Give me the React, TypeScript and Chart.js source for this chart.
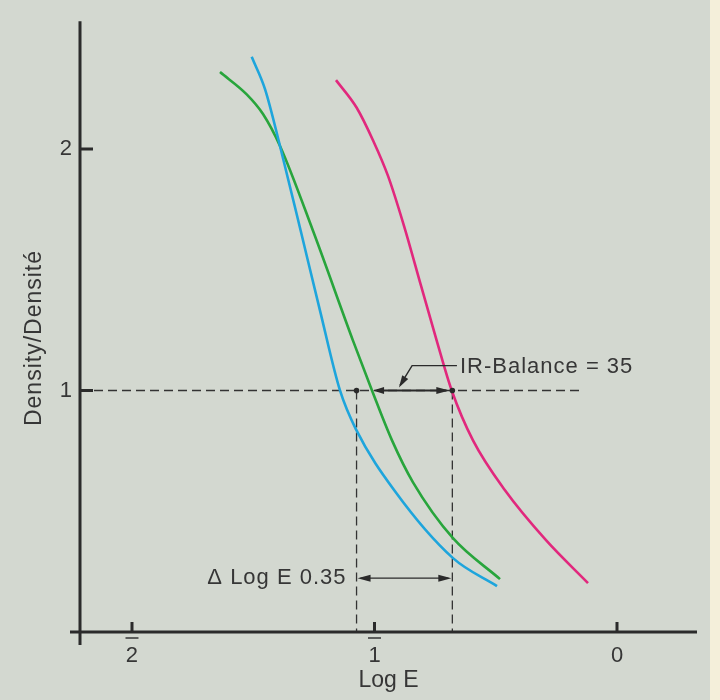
import React, { useEffect, useRef } from "react";
import { Chart, registerables } from "chart.js";

Chart.register(...registerables);

const blueX = [-1.5064, -1.4515, -1.3897, -1.3043, -1.2247, -1.1423, -1.0763, -0.9155, -0.6763, -0.4948];
const blueY = [2.3814, 2.2479, 2.0124, 1.6612, 1.3306, 1.0, 0.8388, 0.5826, 0.3058, 0.1901];
const greenX = [-1.6371, -1.527, -1.4598, -1.3897, -1.2536, -1.0887, -1.0103, -0.9278, -0.8412, -0.6763, -0.4825];
const greenY = [2.3182, 2.226, 2.1446, 2.0124, 1.6612, 1.2066, 1.0, 0.7934, 0.6198, 0.3884, 0.219];
const magentaX = [-1.1588, -1.0734, -1.0049, -0.9443, -0.8784, -0.8082, -0.7435, -0.6816, -0.5938, -0.4619, -0.2928, -0.1196];
const magentaY = [2.2851, 2.1707, 2.0331, 1.8884, 1.6818, 1.4339, 1.2066, 1.0, 0.7934, 0.5868, 0.3802, 0.2025];

const xTickValues = [-2, -1, 0];
const xTickLabels = ["2", "1", "0"];
const xTickBarred = [true, true, false];
const yTickValues = [1, 2];
const yTickLabels = ["1", "2"];

// annotation values (data coords)
const refDensity = 1;
const refLineEndX = -0.153;
const leftMarkX = -1.074;
const rightMarkX = -0.679;
const greenAtRefX = -1.006;
const deltaArrowY = 0.223;
const leaderPts = [
  [-0.66, 1.103],
  [-0.845, 1.103],
  [-0.895, 1.021],
];
const irLabel = "IR-Balance = 35";
const deltaLabel = "\u0394 Log E 0.35";
const yTitle = "Density/Densit\u00e9";

const BG = "rgb(211,216,208)";
const INK = "#2b2b2b";
const TEXT = "#363636";
const FONT = "'Liberation Sans', Arial, Helvetica, sans-serif";

function arrowHead(ctx: CanvasRenderingContext2D, x: number, y: number, dx: number, dy: number, len = 12, hw = 3.5) {
  const l = Math.hypot(dx, dy) || 1;
  const ux = dx / l, uy = dy / l;
  const bx = x - ux * len, by = y - uy * len;
  ctx.beginPath();
  ctx.moveTo(x, y);
  ctx.lineTo(bx - uy * hw, by + ux * hw);
  ctx.lineTo(bx + uy * hw, by - ux * hw);
  ctx.closePath();
  ctx.fill();
}

const decorPlugin = {
  id: "decor",
  beforeDraw(chart: any) {
    const ctx = chart.ctx as CanvasRenderingContext2D;
    ctx.save();
    ctx.fillStyle = BG;
    ctx.fillRect(0, 0, chart.width, chart.height);
    ctx.fillStyle = "rgb(244,239,218)";
    ctx.fillRect(710, 0, chart.width - 710, chart.height);
    ctx.restore();
  },
  beforeDatasetsDraw(chart: any) {
    const ctx = chart.ctx as CanvasRenderingContext2D;
    const xs = chart.scales.x, ys = chart.scales.y;
    const ca = chart.chartArea;
    const px = (v: number) => xs.getPixelForValue(v);
    const py = (v: number) => ys.getPixelForValue(v);
    ctx.save();
    ctx.strokeStyle = "#333";
    ctx.lineWidth = 1.3;
    ctx.setLineDash([9, 5]);
    ctx.beginPath();
    ctx.moveTo(ca.left, py(refDensity));
    ctx.lineTo(px(refLineEndX), py(refDensity));
    ctx.moveTo(px(leftMarkX), py(refDensity));
    ctx.lineTo(px(leftMarkX), py(0));
    ctx.moveTo(px(rightMarkX), py(refDensity));
    ctx.lineTo(px(rightMarkX), py(0));
    ctx.stroke();
    ctx.restore();
  },
  afterDatasetsDraw(chart: any) {
    const ctx = chart.ctx as CanvasRenderingContext2D;
    const xs = chart.scales.x, ys = chart.scales.y;
    const ca = chart.chartArea;
    const px = (v: number) => xs.getPixelForValue(v);
    const py = (v: number) => ys.getPixelForValue(v);
    ctx.save();
    ctx.strokeStyle = INK;
    ctx.lineWidth = 3;
    ctx.setLineDash([]);
    const x0 = ca.left, y0 = py(0);
    ctx.beginPath();
    ctx.moveTo(x0, ca.top);
    ctx.lineTo(x0, y0 + 13);
    ctx.moveTo(x0 - 10, y0);
    ctx.lineTo(ca.right, y0);
    yTickValues.forEach((v) => {
      ctx.moveTo(x0, py(v));
      ctx.lineTo(x0 + 13, py(v));
    });
    xTickValues.forEach((v) => {
      ctx.moveTo(px(v), y0);
      ctx.lineTo(px(v), y0 - 10);
    });
    ctx.stroke();
    // bars over log characteristic tick labels
    ctx.strokeStyle = TEXT;
    ctx.lineWidth = 1.6;
    ctx.beginPath();
    xTickValues.forEach((v, i) => {
      if (!xTickBarred[i]) return;
      ctx.moveTo(px(v) - 6.5, y0 + 6);
      ctx.lineTo(px(v) + 6.5, y0 + 6);
    });
    ctx.stroke();

    ctx.fillStyle = "#2a2a2a";
    ctx.strokeStyle = "#2a2a2a";
    ctx.lineWidth = 1.8;
    const yr = py(refDensity);
    ctx.beginPath();
    ctx.moveTo(px(greenAtRefX) + 4, yr);
    ctx.lineTo(px(rightMarkX) - 6, yr);
    ctx.stroke();
    arrowHead(ctx, px(greenAtRefX), yr, -1, 0, 11, 3.5);
    arrowHead(ctx, px(rightMarkX) - 3, yr, 1, 0, 13, 3.5);
    [leftMarkX, rightMarkX].forEach((v) => {
      ctx.beginPath();
      ctx.arc(px(v), yr, 2.8, 0, Math.PI * 2);
      ctx.fill();
    });
    const yd = py(deltaArrowY);
    ctx.lineWidth = 1.4;
    ctx.beginPath();
    ctx.moveTo(px(leftMarkX) + 4, yd);
    ctx.lineTo(px(rightMarkX) - 4, yd);
    ctx.stroke();
    arrowHead(ctx, px(leftMarkX) + 1, yd, -1, 0, 13, 3.5);
    arrowHead(ctx, px(rightMarkX) - 1, yd, 1, 0, 13, 3.5);
    ctx.lineWidth = 1.4;
    ctx.beginPath();
    ctx.moveTo(px(leaderPts[0][0]), py(leaderPts[0][1]));
    ctx.lineTo(px(leaderPts[1][0]), py(leaderPts[1][1]));
    ctx.lineTo(px(leaderPts[2][0]), py(leaderPts[2][1]));
    ctx.stroke();
    arrowHead(
      ctx,
      px(leaderPts[2][0]) - 1,
      py(leaderPts[2][1]) + 2,
      px(leaderPts[2][0]) - px(leaderPts[1][0]),
      py(leaderPts[2][1]) - py(leaderPts[1][1]),
      12,
      3.5
    );

    ctx.fillStyle = TEXT;
    (ctx as any).letterSpacing = "1px";
    ctx.font = `22px ${FONT}`;
    ctx.textBaseline = "middle";
    ctx.textAlign = "left";
    ctx.fillText(irLabel, px(leaderPts[0][0]) + 3, py(leaderPts[0][1]) + 1);
    ctx.textAlign = "right";
    ctx.fillText(deltaLabel, px(leftMarkX) - 10, yd);
    ctx.translate(35, 338);
    ctx.rotate(-Math.PI / 2);
    ctx.textAlign = "center";
    ctx.font = `23px ${FONT}`;
    ctx.fillText(yTitle, 0, 0);
    ctx.restore();
  },
};

export default function App() {
  const ref = useRef<HTMLCanvasElement>(null);
  useEffect(() => {
    if (!ref.current) return;
    const mk = (xs: number[], ys: number[]) => xs.map((x, i) => ({ x, y: ys[i] }));
    const ds = (data: any, color: string) => ({
      data,
      borderColor: color,
      borderWidth: 2.6,
      pointRadius: 0,
      showLine: true,
      fill: false,
      cubicInterpolationMode: "monotone" as const,
    });
    const chart = new Chart(ref.current, {
      type: "scatter",
      data: {
        datasets: [
          ds(mk(blueX, blueY), "rgb(30,165,220)"),
          ds(mk(greenX, greenY), "rgb(40,165,60)"),
          ds(mk(magentaX, magentaY), "rgb(225,40,125)"),
        ],
      },
      plugins: [decorPlugin],
      options: {
        animation: false,
        responsive: false,
        layout: { padding: { top: 20, right: 23, left: 0, bottom: 0 } },
        plugins: { legend: { display: false }, tooltip: { enabled: false } },
        scales: {
          x: {
            type: "linear",
            min: -2.2144,
            max: 0.3299,
            afterBuildTicks: (s: any) => {
              s.ticks = xTickValues.map((v) => ({ value: v }));
            },
            afterFit: (s: any) => {
              s.height = 68;
            },
            grid: { display: false, drawTicks: false },
            border: { display: false },
            ticks: {
              padding: 11,
              color: TEXT,
              font: { family: FONT, size: 22 },
              maxRotation: 0,
              callback: (v: any) => {
                const i = xTickValues.indexOf(Number(v));
                return i >= 0 ? xTickLabels[i] : "";
              },
            },
            title: {
              display: true,
              text: "Log E",
              color: TEXT,
              font: { family: FONT, size: 23, lineHeight: 1 },
              padding: { top: 0, bottom: 8 },
            },
          },
          y: {
            type: "linear",
            min: 0,
            max: 2.529,
            afterBuildTicks: (s: any) => {
              s.ticks = yTickValues.map((v) => ({ value: v }));
            },
            afterFit: (s: any) => {
              s.width = 80;
            },
            grid: { display: false, drawTicks: false },
            border: { display: false },
            ticks: {
              padding: 8,
              color: TEXT,
              font: { family: FONT, size: 22 },
              callback: (v: any) => {
                const i = yTickValues.indexOf(Number(v));
                return i >= 0 ? yTickLabels[i] : "";
              },
            },
          },
        },
      },
    });
    return () => chart.destroy();
  }, []);
  return (
    <div style={{ position: "fixed", left: 0, top: 0, width: 720, height: 700 }}>
      <canvas ref={ref} width={720} height={700} style={{ width: 720, height: 700 }} />
    </div>
  );
}
